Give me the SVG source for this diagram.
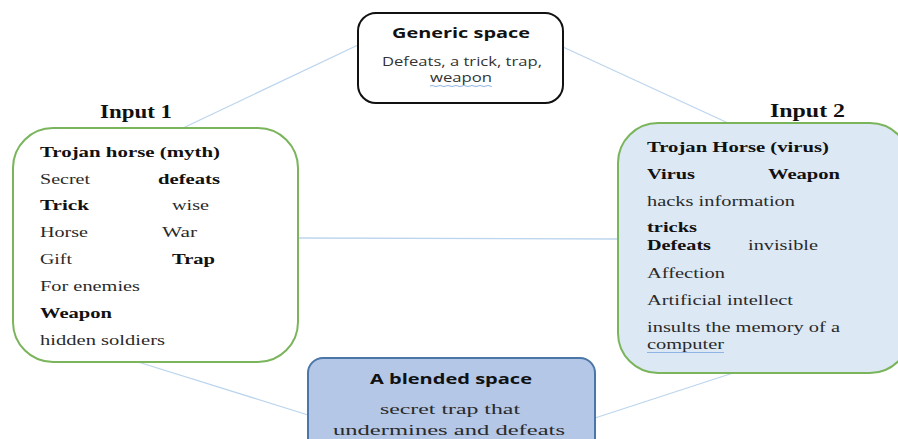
<svg xmlns="http://www.w3.org/2000/svg" width="898" height="439" viewBox="0 0 898 439">
<style>
.ser{font-family:"Liberation Serif","Times New Roman",serif;font-size:15px;fill:#2a2a2a}
.b{font-weight:bold;fill:#111}
.lbl{font-family:"Liberation Serif","Times New Roman",serif;font-size:18px;font-weight:bold;fill:#111}
.sans{font-family:"Open Sans","DejaVu Sans",sans-serif;fill:#111}
.conn{stroke:#bcd5ee;stroke-width:1.3;fill:none}
.sq{stroke:#8fb4e3;stroke-width:1;fill:none}
</style>
<rect width="898" height="439" fill="#ffffff"/>
<g id="connectors">
<line class="conn" x1="358" y1="45" x2="183" y2="128"/>
<line class="conn" x1="563" y1="47" x2="728" y2="123"/>
<line class="conn" x1="298" y1="238" x2="618" y2="239"/>
<line class="conn" x1="138" y1="362" x2="308" y2="415"/>
<line class="conn" x1="733" y1="373" x2="595" y2="418"/>
</g>
<g id="generic">
<rect x="358" y="13" width="205" height="90" rx="18" fill="#ffffff" stroke="#111" stroke-width="2"/>
<text class="sans" x="461" y="38" font-size="14.5" font-weight="bold" text-anchor="middle" textLength="138" lengthAdjust="spacingAndGlyphs">Generic space</text>
<text class="sans" x="462" y="66" font-size="12" text-anchor="middle" fill="#333" textLength="160" lengthAdjust="spacingAndGlyphs" style="fill:#333">Defeats, a trick, trap,</text>
<text class="sans" x="461" y="82" font-size="12" text-anchor="middle" textLength="62" lengthAdjust="spacingAndGlyphs" style="fill:#333">weapon</text>
<path class="sq" d="M430 86 q2 -1 4 0 t4 0 t4 0 t4 0 t4 0 t4 0 t4 0 t4 0 t4 0 t4 0 t4 0 t4 0 t4 0 t4 0 t4 0 t2 0"/>
</g>
<g id="input1">
<text class="lbl" x="100" y="118" textLength="72" lengthAdjust="spacingAndGlyphs">Input 1</text>
<rect x="13" y="128" width="285" height="234" rx="40" fill="#ffffff" stroke="#7ab55c" stroke-width="2"/>
<text class="ser b" x="40" y="157" textLength="180" lengthAdjust="spacingAndGlyphs">Trojan horse (myth)</text>
<text class="ser" x="40" y="184" textLength="50" lengthAdjust="spacingAndGlyphs">Secret</text>
<text class="ser b" x="158" y="184" textLength="62" lengthAdjust="spacingAndGlyphs">defeats</text>
<text class="ser b" x="40" y="210" textLength="49" lengthAdjust="spacingAndGlyphs">Trick</text>
<text class="ser" x="172" y="210" textLength="37" lengthAdjust="spacingAndGlyphs">wise</text>
<text class="ser" x="40" y="237" textLength="48" lengthAdjust="spacingAndGlyphs">Horse</text>
<text class="ser" x="162" y="237" textLength="35" lengthAdjust="spacingAndGlyphs">War</text>
<text class="ser" x="40" y="264" textLength="32" lengthAdjust="spacingAndGlyphs">Gift</text>
<text class="ser b" x="172" y="264" textLength="43" lengthAdjust="spacingAndGlyphs">Trap</text>
<text class="ser" x="40" y="291" textLength="100" lengthAdjust="spacingAndGlyphs">For enemies</text>
<text class="ser b" x="40" y="318" textLength="72" lengthAdjust="spacingAndGlyphs">Weapon</text>
<text class="ser" x="40" y="345" textLength="125" lengthAdjust="spacingAndGlyphs">hidden soldiers</text>
</g>
<g id="input2">
<text class="lbl" x="770" y="117" textLength="75" lengthAdjust="spacingAndGlyphs">Input 2</text>
<rect x="618" y="123" width="292" height="250" rx="40" fill="#dde8f5" stroke="#7ab55c" stroke-width="2"/>
<text class="ser b" x="647" y="152" textLength="182" lengthAdjust="spacingAndGlyphs">Trojan Horse (virus)</text>
<text class="ser b" x="647" y="179" textLength="48" lengthAdjust="spacingAndGlyphs">Virus</text>
<text class="ser b" x="768" y="179" textLength="72" lengthAdjust="spacingAndGlyphs">Weapon</text>
<text class="ser" x="647" y="206" textLength="148" lengthAdjust="spacingAndGlyphs">hacks information</text>
<text class="ser b" x="647" y="232" textLength="50" lengthAdjust="spacingAndGlyphs">tricks</text>
<text class="ser b" x="647" y="250" textLength="64" lengthAdjust="spacingAndGlyphs">Defeats</text>
<text class="ser" x="748" y="250" textLength="70" lengthAdjust="spacingAndGlyphs">invisible</text>
<text class="ser" x="647" y="278" textLength="78" lengthAdjust="spacingAndGlyphs">Affection</text>
<text class="ser" x="647" y="305" textLength="146" lengthAdjust="spacingAndGlyphs">Artificial intellect</text>
<text class="ser" x="647" y="332" textLength="193" lengthAdjust="spacingAndGlyphs">insults the memory of a</text>
<text class="ser" x="647" y="349" textLength="77" lengthAdjust="spacingAndGlyphs">computer</text>
<path class="sq" d="M647 352.5 h77"/>
</g>
<g id="blended">
<rect x="308" y="358" width="287" height="100" rx="15" fill="#b4c7e7" stroke="#4a76a8" stroke-width="2"/>
<text class="sans" x="451" y="384" font-size="15" font-weight="bold" text-anchor="middle" textLength="162" lengthAdjust="spacingAndGlyphs">A blended space</text>
<text class="ser" x="450" y="414" font-size="17" text-anchor="middle" textLength="140" lengthAdjust="spacingAndGlyphs">secret trap that</text>
<text class="ser" x="449" y="435" font-size="17" text-anchor="middle" textLength="232" lengthAdjust="spacingAndGlyphs">undermines and defeats</text>
</g>
</svg>
